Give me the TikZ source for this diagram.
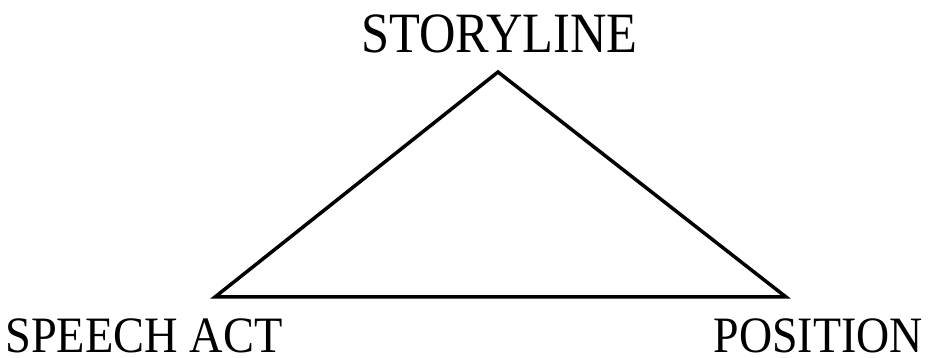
\documentclass[tikz,border=0pt]{standalone}
\usepackage{fontspec}
\setmainfont{Liberation Serif}
\begin{document}
\begin{tikzpicture}[x=1pt,y=1pt,
  lbl/.style={inner sep=0pt, text depth=0pt, font=\fontsize{51}{51}\selectfont},
  toplbl/.style={inner sep=0pt, font=\fontsize{57}{57}\selectfont},
  edge/.style={line width=3.5pt, line join=miter}]
\useasboundingbox (0,0) rectangle (928,358);
\coordinate (top) at (498,286);
\coordinate (bl) at (215,61);
\coordinate (br) at (786,61);
\draw[edge] (top) -- (bl) -- (br) -- cycle;
\node[toplbl, anchor=base] (story) at (499.5,305) {\scalebox{0.885}[1]{STORYLINE}};
\node[lbl, anchor=base west] (speech) at (5,5) {\scalebox{0.91}[1]{SPEECH ACT}};
\node[lbl, anchor=base east] (pos) at (923,5) {\scalebox{0.9}[1]{POSITION}};
\end{tikzpicture}
\end{document}
